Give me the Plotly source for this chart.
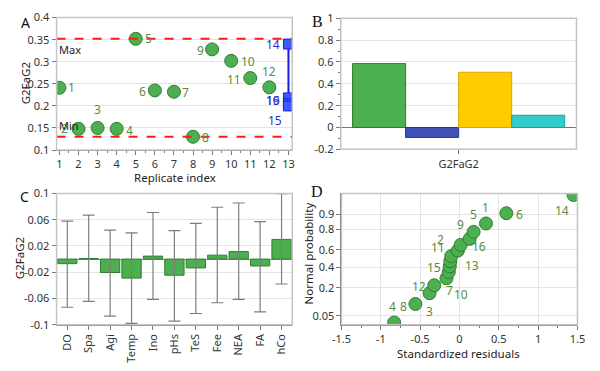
import plotly.graph_objects as go
from statistics import NormalDist

# ---------------- data ----------------
# Panel A: replicate values
rep_index = [1, 2, 3, 4, 5, 6, 7, 8, 9, 10, 11, 12]
rep_values = [0.241, 0.148, 0.150, 0.148, 0.352, 0.235, 0.232, 0.130, 0.328, 0.302, 0.263, 0.242]
rep_labels = ["1", "2", "3", "4", "5", "6", "7", "8", "9", "10", "11", "12"]
center_index = [13, 13, 13, 13]
center_values = [0.340, 0.218, 0.205, 0.200]
center_labels = ["14", "16", "19", "15"]
max_value = 0.352
min_value = 0.130

# Panel B: coefficients
coef_category = ["G2FaG2"]
coef_values = [0.585, -0.091, 0.506, 0.112]

# Panel C: factor effects with error bars
factors = ["DO", "Spa", "Agi", "Temp", "Ino", "pHs", "TeS", "Fee", "NEA", "FA", "hCo"]
effects = [-0.007, 0.0008, -0.0205, -0.029, 0.0045, -0.0246, -0.0135, 0.006, 0.0114, -0.0105, 0.030]
err_upper = [0.058, 0.067, 0.044, 0.040, 0.071, 0.0435, 0.0545, 0.079, 0.0855, 0.057, 0.0999]
err_lower = [-0.0735, -0.0645, -0.087, -0.098, -0.0615, -0.0945, -0.083, -0.0666, -0.0615, -0.0805, -0.038]

# Panel D: normal probability plot
residuals = [-0.83, -0.56, -0.38, -0.32, -0.165, -0.136, -0.123, -0.116, -0.104, -0.02, 0.016, 0.13, 0.18, 0.337, 0.596, 1.45]
probabilities = [0.033, 0.096, 0.160, 0.222, 0.287, 0.350, 0.412, 0.470, 0.530, 0.593, 0.655, 0.717, 0.780, 0.845, 0.905, 0.967]
run_labels = ["4", "8", "3", "12", "7", "10", "15", "13", "11", "2", "16", "9", "5", "1", "6", "14"]
prob_ticks = [0.05, 0.2, 0.4, 0.6, 0.8, 0.9]
prob_ticktext = ["0.05", "0.2", "0.4", "0.6", "0.8", "0.9"]

# ---------------- style ----------------
W, H = 600, 371
FONT = "Noto Sans"
TICKC = "#333333"
GREEN = "#4caf50"
GREEN_LINE = "#2f7d32"
LABEL_GREEN = "#5b8c3a"
GRID = "#e4e4e4"
AXLINE = "#7a7a7a"
BORDER = "#c4c4c4"


def px_dom_x(a, b):
    return [a / W, b / W]


def px_dom_y(top, bottom):
    return [1 - bottom / H, 1 - top / H]


fig = go.Figure()

# ---- Panel A ----
fig.add_trace(go.Scatter(
    x=rep_index, y=rep_values, mode="markers", xaxis="x", yaxis="y",
    marker=dict(size=13, color=GREEN, line=dict(color=GREEN_LINE, width=1)),
    hoverinfo="skip"))
fig.add_trace(go.Scatter(
    x=center_index, y=center_values, mode="lines+markers", xaxis="x", yaxis="y",
    line=dict(color="#1a1adf", width=2),
    marker=dict(symbol="square", size=10, color="#3b5bff", line=dict(color="#1a1adf", width=1)),
    hoverinfo="skip"))

annotations = []
shapes = []

# offsets in px (dx, dy with dy positive downward)
a_offsets = [(12, 0), (-14, 0), (0, -18), (13, 2), (13, 0), (-12, 1), (12, 1),
             (12, 1), (-12, 1), (17, 1), (-16, 1), (0, -16)]
for xi, yi, lab, (dx, dy) in zip(rep_index, rep_values, rep_labels, a_offsets):
    annotations.append(dict(x=xi, y=yi, xref="x", yref="y", text=lab, showarrow=False,
                            xshift=dx, yshift=-dy, font=dict(family=FONT, size=12, color=LABEL_GREEN)))
c_offsets = [(-15, 0), (-15, 3), (-15, -3), (-13, 15)]
for xi, yi, lab, (dx, dy) in zip(center_index, center_values, center_labels, c_offsets):
    annotations.append(dict(x=xi, y=yi, xref="x", yref="y", text=lab, showarrow=False,
                            xshift=dx, yshift=-dy, font=dict(family=FONT, size=12, color="#2b2bd0")))

for val in [max_value, min_value]:
    shapes.append(dict(type="line", xref="x domain", yref="y", x0=0, x1=1, y0=val, y1=val,
                       line=dict(color="#ff1a1a", width=2, dash="dash")))
annotations.append(dict(x=0, y=max_value, xref="x domain", yref="y", text="Max", showarrow=False,
                        xanchor="left", yanchor="top", xshift=0, yshift=-1,
                        font=dict(family=FONT, size=11, color="#222")))
annotations.append(dict(x=0, y=min_value, xref="x domain", yref="y", text="Min", showarrow=False,
                        xanchor="left", yanchor="bottom", xshift=0, yshift=2,
                        font=dict(family=FONT, size=11, color="#222")))

# ---- Panel B ----
b_fill = ["#4caf50", "#3f51b5", "#ffcc00", "#33cccc"]
b_line = ["#2f7d32", "#283593", "#d8a800", "#1f9e9e"]
for v, fc, lc in zip(coef_values, b_fill, b_line):
    fig.add_trace(go.Bar(x=coef_category, y=[v], xaxis="x2", yaxis="y2",
                         marker=dict(color=fc, line=dict(color=lc, width=1)), hoverinfo="skip"))

# ---- Panel C ----
err_plus = [u - e for u, e in zip(err_upper, effects)]
err_minus = [e - l for l, e in zip(err_lower, effects)]
fig.add_trace(go.Bar(
    x=factors, y=effects, xaxis="x3", yaxis="y3",
    marker=dict(color=GREEN, line=dict(color=GREEN_LINE, width=1)),
    error_y=dict(type="data", symmetric=False, array=err_plus, arrayminus=err_minus,
                 color="#7d7d7d", thickness=1.2, width=6),
    hoverinfo="skip"))

# ---- Panel D ----
nd = NormalDist()
z_vals = [nd.inv_cdf(p) for p in probabilities]
fig.add_trace(go.Scatter(
    x=residuals, y=z_vals, mode="markers", xaxis="x4", yaxis="y4",
    marker=dict(size=13, color=GREEN, line=dict(color=GREEN_LINE, width=1)),
    hoverinfo="skip"))
d_offsets = [(-2, -16), (-12, 3), (0, 18), (-15, 1), (3, 12), (12, 22), (-16, 1), (22, 4),
             (-13, -9), (-17, -11), (18, 2), (-9, -14), (0, -17), (0, -16), (13, 1), (-12, 16)]
for xi, zi, lab, (dx, dy) in zip(residuals, z_vals, run_labels, d_offsets):
    annotations.append(dict(x=xi, y=zi, xref="x4", yref="y4", text=lab, showarrow=False,
                            xshift=dx, yshift=-dy, font=dict(family=FONT, size=12, color=LABEL_GREEN)))

# ---- borders ----
for xr, yr in [("x", "y"), ("x2", "y2"), ("x3", "y3"), ("x4", "y4")]:
    shapes.append(dict(type="rect", xref=f"{xr} domain", yref=f"{yr} domain", x0=0, x1=1, y0=0, y1=1,
                       line=dict(color=BORDER, width=1.5), layer="above"))

# ---- panel letters ----
for txt, x, y, fam, sz in [("A", 15.5, 15, FONT, 14), ("B", 316.5, 14, "Liberation Serif", 16),
                           ("C", 15, 196, FONT, 14), ("D", 317, 191, "Liberation Serif", 16)]:
    annotations.append(dict(x=x / W, y=1 - y / H, xref="paper", yref="paper", text=txt, showarrow=False,
                            xanchor="center", yanchor="middle", font=dict(family=fam, size=sz, color="#111")))

# ---- axis titles ----
title_font = dict(family=FONT, size=11.5, color="#222")
for txt, x, y, ang in [("G2FaG2", 16, 79, -90), ("Replicate index", 170, 177, 0),
                       ("G2FaG2", 10, 261, -90), ("Normal probability", 308, 256, -90),
                       ("Standardized residuals", 462, 360, 0)]:
    annotations.append(dict(x=x / W, y=1 - y / H, xref="paper", yref="paper", text=txt, showarrow=False,
                            textangle=ang, xanchor="center", yanchor="middle", font=title_font))

tickfont = dict(family=FONT, size=11, color=TICKC)
common_axis = dict(showline=True, linecolor=AXLINE, linewidth=1, ticks="outside", ticklen=4,
                   tickcolor=AXLINE, tickfont=tickfont, zeroline=False)

fig.update_layout(
    width=W, height=H, autosize=False,
    margin=dict(l=0, r=0, t=0, b=0),
    paper_bgcolor="white", plot_bgcolor="white",
    showlegend=False, barmode="group", bargap=0.1, bargroupgap=0,
    annotations=annotations, shapes=shapes,
    xaxis=dict(domain=px_dom_x(48, 291), anchor="y", range=[0.85, 13.2],
               tickvals=rep_index + [13], showgrid=False,
               minor=dict(ticks="outside", dtick=0.5, ticklen=2, tickcolor=AXLINE), **common_axis),
    yaxis=dict(domain=px_dom_y(10, 148), anchor="x", range=[0.1, 0.4], tick0=0.1, dtick=0.05,
               showgrid=True, gridcolor=GRID, **common_axis),
    xaxis2=dict(domain=px_dom_x(341, 584), anchor="y2", type="category", showgrid=False, **common_axis),
    yaxis2=dict(domain=px_dom_y(10.7, 147.3), anchor="x2", range=[-0.2, 1],
                tickvals=[-0.2, 0, 0.2, 0.4, 0.6, 0.8, 1],
                ticktext=["-0.2", "0", "0.2", "0.4", "0.6", "0.8", "1"],
                showgrid=True, gridcolor=GRID,
                minor=dict(ticks="outside", dtick=0.1, ticklen=2, tickcolor=AXLINE),
                **{**common_axis, "zeroline": True}, zerolinecolor="#777", zerolinewidth=1),
    xaxis3=dict(domain=px_dom_x(48, 291), anchor="y3", type="category", tickangle=-90,
                showgrid=False, **common_axis),
    yaxis3=dict(domain=px_dom_y(193.3, 330), anchor="x3", range=[-0.1, 0.1],
                tickvals=[-0.1, -0.06, -0.02, 0.02, 0.06, 0.1],
                ticktext=["-0.1", "-0.06", "-0.02", "0.02", "0.06", "0.1"],
                showgrid=True, gridcolor=GRID,
                **{**common_axis, "zeroline": True}, zerolinecolor="#8a8a8a", zerolinewidth=1),
    xaxis4=dict(domain=px_dom_x(341.7, 585), anchor="y4", range=[-1.5, 1.5],
                tickvals=[-1.5, -1, -0.5, 0, 0.5, 1, 1.5],
                ticktext=["-1.5", "-1", "-0.5", "0", "0.5", "1", "1.5"],
                showgrid=True, gridcolor=GRID,
                minor=dict(ticks="outside", dtick=0.25, ticklen=2, tickcolor=AXLINE, showgrid=False),
                **common_axis),
    yaxis4=dict(domain=px_dom_y(193.3, 330), anchor="x4", range=[-1.90, 1.88],
                tickvals=[nd.inv_cdf(p) for p in prob_ticks], ticktext=prob_ticktext,
                showgrid=True, gridcolor=GRID, **common_axis),
)

fig.write_html(
    "out.html",
    config={"displayModeBar": False},
    post_script="document.body.style.margin='0';document.body.style.overflow='hidden';",
)
